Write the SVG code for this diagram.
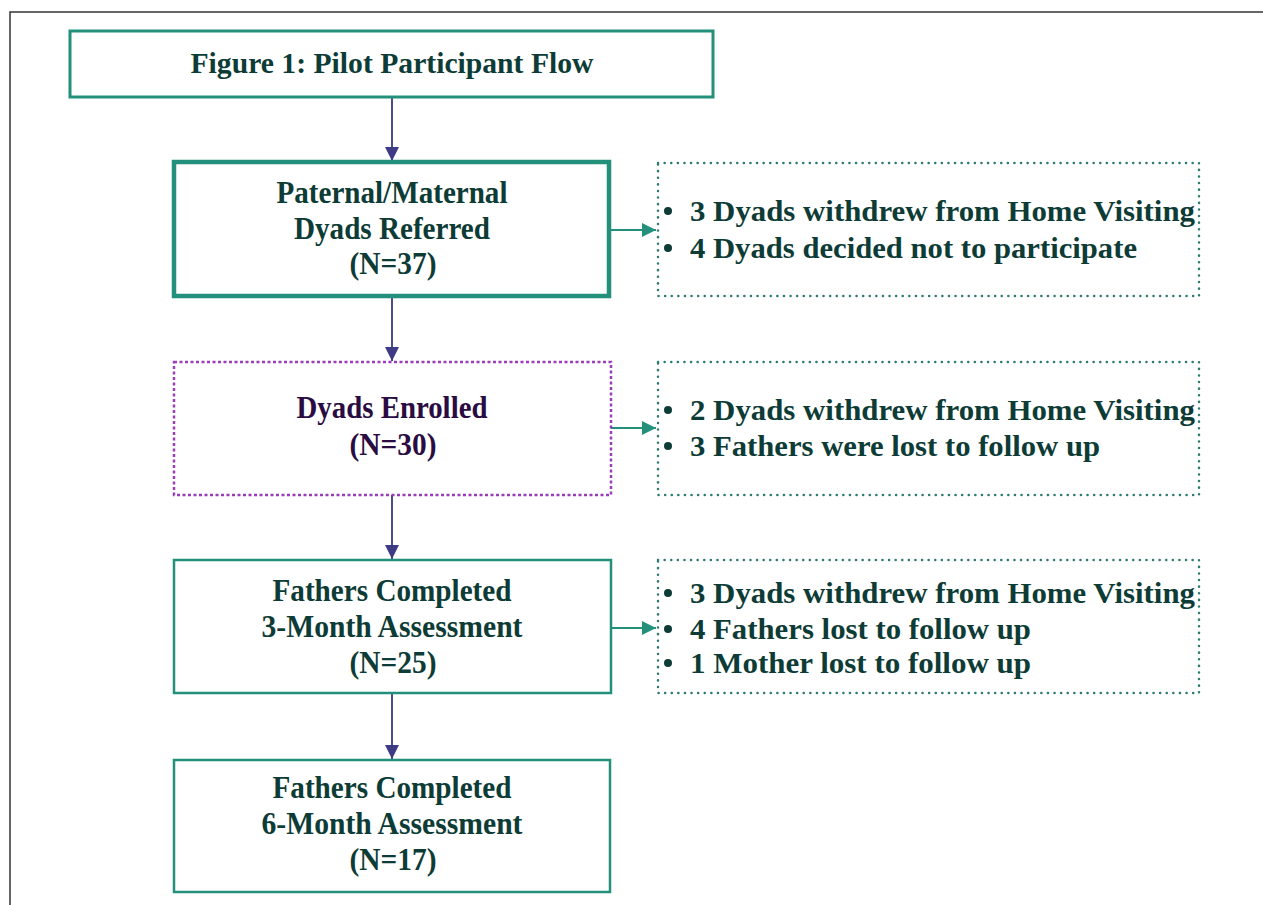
<svg xmlns="http://www.w3.org/2000/svg" width="1263" height="905" viewBox="0 0 1263 905">
<defs>
<style>
.t{font-family:"Liberation Serif","Times New Roman",serif;font-weight:bold;font-size:31px;fill:#0d3b36;text-anchor:middle}
.ti{font-size:29px}
.b{font-family:"Liberation Serif","Times New Roman",serif;font-weight:bold;font-size:29px;fill:#0d3b36}
.box{fill:#fff;stroke:#23907c;stroke-width:2.5}
.dot{fill:#fff;stroke:#2d7a6e;stroke-width:2.5;stroke-dasharray:0.1 6.5;stroke-linecap:round}
.v{stroke:#4d4b8a;stroke-width:2;fill:none}
.h{stroke:#23907c;stroke-width:2;fill:none}
.bu{fill:#0d3b36}
</style>
<marker id="av" markerUnits="userSpaceOnUse" markerWidth="16" markerHeight="14" refX="14" refY="7" orient="auto"><path d="M0,0 L14,7 L0,14 Z" fill="#3f3a86"/></marker>
<marker id="ah" markerUnits="userSpaceOnUse" markerWidth="16" markerHeight="14" refX="14" refY="7" orient="auto"><path d="M0,0 L14,7 L0,14 Z" fill="#23907c"/></marker>
</defs>
<rect width="1263" height="905" fill="#fff"/>
<path d="M10,905 V12 H1263" fill="none" stroke="#333" stroke-width="1.5"/>

<g id="connectors">
<line class="v" x1="392" y1="97" x2="392" y2="161" marker-end="url(#av)"/>
<line class="v" x1="392" y1="297" x2="392" y2="361" marker-end="url(#av)"/>
<line class="v" x1="392" y1="495" x2="392" y2="559" marker-end="url(#av)"/>
<line class="v" x1="392" y1="693" x2="392" y2="759" marker-end="url(#av)"/>
<line class="h" x1="610" y1="230" x2="656" y2="230" marker-end="url(#ah)"/>
<line class="h" x1="611" y1="428" x2="656" y2="428" marker-end="url(#ah)"/>
<line class="h" x1="611" y1="628" x2="656" y2="628" marker-end="url(#ah)"/>
</g>

<g id="title">
<rect class="box" x="70" y="31" width="643" height="66" style="stroke-width:3"/>
<text class="t ti" x="392" y="73" textLength="403" lengthAdjust="spacingAndGlyphs">Figure 1: Pilot Participant Flow</text>
</g>

<g id="referred">
<rect class="box" x="174" y="162" width="435" height="134" style="stroke-width:4.5"/>
<text class="t" x="392" y="203" textLength="231" lengthAdjust="spacingAndGlyphs">Paternal/Maternal</text>
<text class="t" x="392" y="239" textLength="196" lengthAdjust="spacingAndGlyphs">Dyads Referred</text>
<text class="t" x="393" y="274" textLength="87" lengthAdjust="spacingAndGlyphs">(N=37)</text>
</g>

<g id="excl1">
<rect class="dot" x="658" y="163" width="541" height="133"/>
<circle class="bu" cx="668" cy="211" r="4"/>
<circle class="bu" cx="668" cy="248" r="4"/>
<text class="b" x="690" y="221" textLength="505" lengthAdjust="spacingAndGlyphs">3 Dyads withdrew from Home Visiting</text>
<text class="b" x="690" y="258" textLength="447" lengthAdjust="spacingAndGlyphs">4 Dyads decided not to participate</text>
</g>

<g id="enrolled">
<rect x="174" y="362" width="437" height="133" fill="#fff" stroke="#9a3db8" stroke-width="2.5" stroke-dasharray="3 2.5"/>
<text class="t" x="392" y="418" textLength="191" lengthAdjust="spacingAndGlyphs" style="fill:#2a0c42">Dyads Enrolled</text>
<text class="t" x="393" y="455" textLength="87" lengthAdjust="spacingAndGlyphs" style="fill:#2a0c42">(N=30)</text>
</g>

<g id="excl2">
<rect class="dot" x="658" y="362" width="541" height="133"/>
<circle class="bu" cx="668" cy="410" r="4"/>
<circle class="bu" cx="668" cy="446" r="4"/>
<text class="b" x="690" y="420" textLength="505" lengthAdjust="spacingAndGlyphs">2 Dyads withdrew from Home Visiting</text>
<text class="b" x="690" y="456" textLength="410" lengthAdjust="spacingAndGlyphs">3 Fathers were lost to follow up</text>
</g>

<g id="month3">
<rect class="box" x="174" y="560" width="437" height="133"/>
<text class="t" x="392" y="601" textLength="239" lengthAdjust="spacingAndGlyphs">Fathers Completed</text>
<text class="t" x="392" y="637" textLength="261" lengthAdjust="spacingAndGlyphs">3-Month Assessment</text>
<text class="t" x="393" y="673" textLength="87" lengthAdjust="spacingAndGlyphs">(N=25)</text>
</g>

<g id="excl3">
<rect class="dot" x="658" y="560" width="541" height="133"/>
<circle class="bu" cx="668" cy="593" r="4"/>
<circle class="bu" cx="668" cy="629" r="4"/>
<circle class="bu" cx="668" cy="663" r="4"/>
<text class="b" x="690" y="603" textLength="505" lengthAdjust="spacingAndGlyphs">3 Dyads withdrew from Home Visiting</text>
<text class="b" x="690" y="639" textLength="341" lengthAdjust="spacingAndGlyphs">4 Fathers lost to follow up</text>
<text class="b" x="690" y="673" textLength="341" lengthAdjust="spacingAndGlyphs">1 Mother lost to follow up</text>
</g>

<g id="month6">
<rect class="box" x="174" y="760" width="436" height="132"/>
<text class="t" x="392" y="798" textLength="239" lengthAdjust="spacingAndGlyphs">Fathers Completed</text>
<text class="t" x="392" y="834" textLength="261" lengthAdjust="spacingAndGlyphs">6-Month Assessment</text>
<text class="t" x="393" y="870" textLength="87" lengthAdjust="spacingAndGlyphs">(N=17)</text>
</g>
</svg>
